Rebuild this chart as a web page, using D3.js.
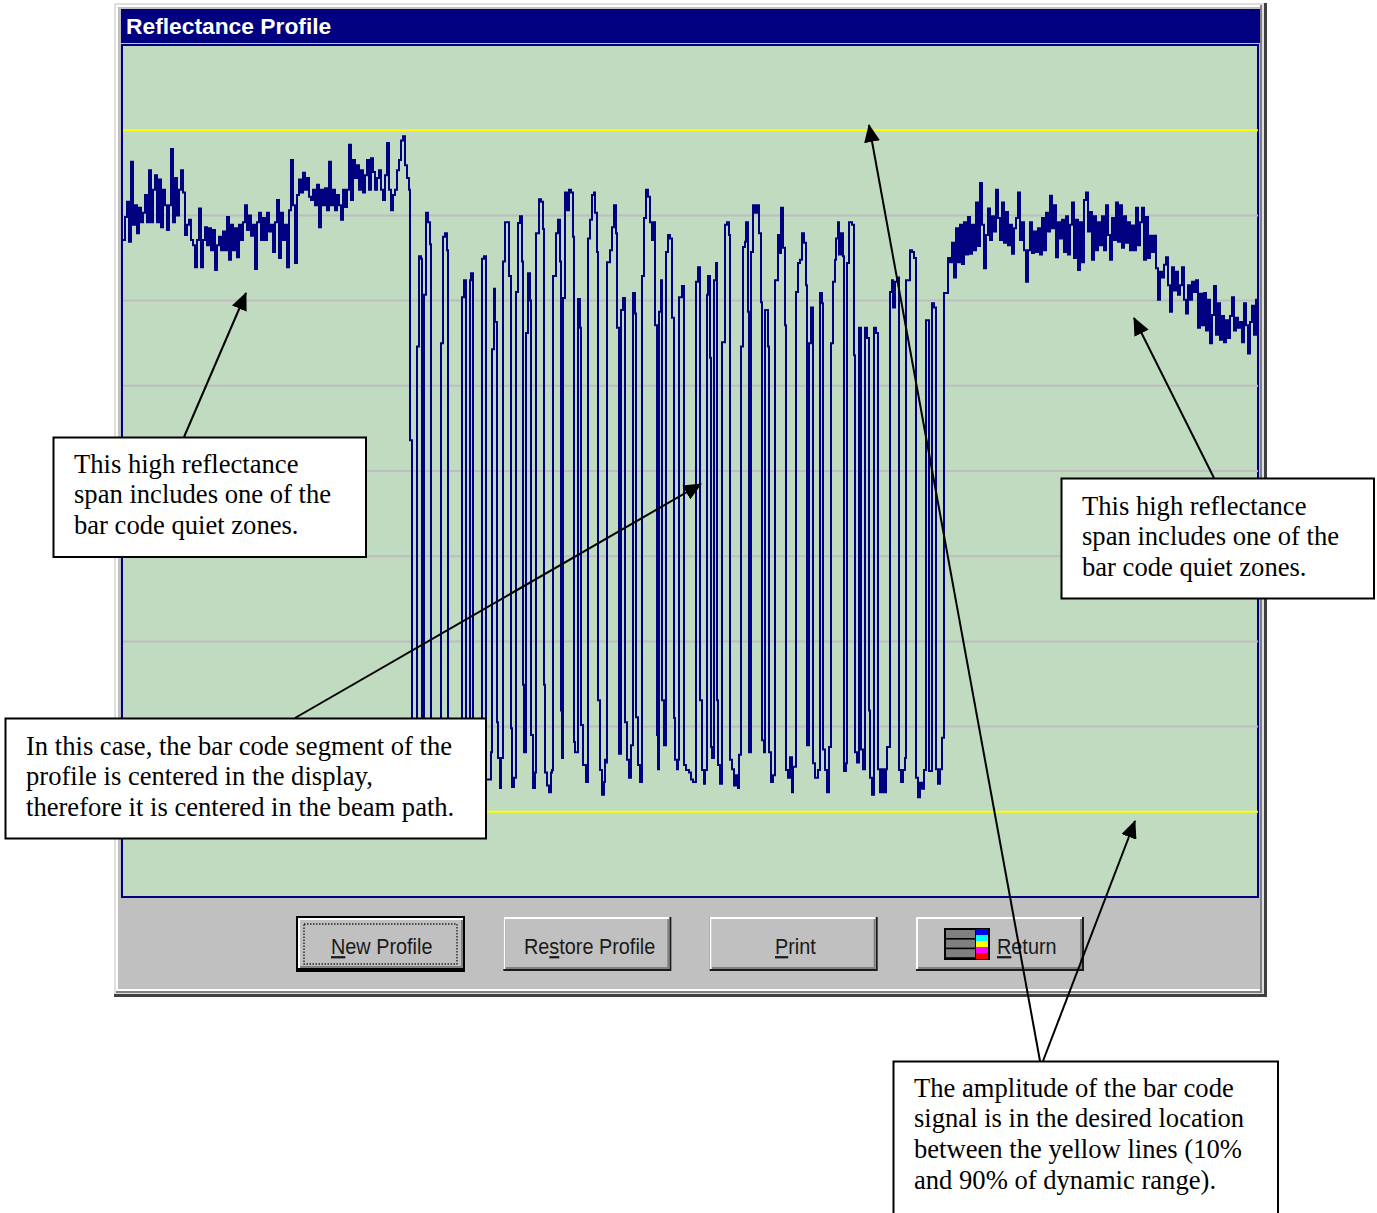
<!DOCTYPE html>
<html>
<head>
<meta charset="utf-8">
<title>Reflectance Profile</title>
<script src="https://cdnjs.cloudflare.com/ajax/libs/d3/7.8.5/d3.min.js"></script>
<style>
  body { margin: 0; background: #ffffff; }
  svg { display: block; }
  .note { font-family: "Liberation Serif", serif; font-size: 26.6px; fill: #000000; }
  .btn { font-family: "Liberation Sans", sans-serif; font-size: 22.4px; fill: #1a1a1a; }
</style>
</head>
<body>
<div class="chart"></div>
<script>
// Reflectance profile window with its callout notes

// reflectance in percent of dynamic range
var gridLevels = [20, 30, 40, 50, 60, 70, 80];
var limitLevels = [10, 90];

// left quiet zone, one reading every zoneStep samples
var zoneStep = 2;
var leftZoneStart = 0;
var leftZone = [
  77.1, 79.8, 81.6, 76.9, 86.3, 78.9, 81.2, 77.9, 80.9, 79.2, 80.3, 82.4, 79.2, 85.3, 79.2, 83.0,
  84.7, 79.2, 84.2, 78.6, 83.0, 81.2, 78.3, 81.2, 87.8, 79.2, 84.4, 80.0, 83.0, 85.3, 82.7, 77.7,
  78.9, 79.5, 77.1, 76.5, 73.9, 77.1, 80.8, 73.9, 77.1, 78.6, 76.5, 78.5, 75.9, 78.3, 73.6, 76.5,
  77.5, 75.9, 78.1, 75.9, 79.8, 74.8, 78.9, 75.9, 78.5, 75.1, 78.9, 77.1, 79.2, 81.2, 78.3, 80.0,
  77.6, 78.9, 73.7, 79.2, 80.3, 77.1, 79.7, 77.1, 80.3, 78.1, 78.9, 75.7, 79.2, 81.8, 75.0, 80.3,
  77.1, 78.9, 73.9, 80.6, 86.5, 81.2, 74.4, 82.4, 84.2, 82.7, 85.0, 83.0, 84.4, 82.2, 81.8, 83.0,
  81.2, 83.6, 78.6, 83.0, 81.2, 83.2, 80.6, 86.3, 81.2, 83.0, 80.6, 82.4, 81.2, 79.5, 83.0, 81.0,
  83.0, 88.3, 81.8, 86.5, 84.4, 85.9, 83.0, 85.3, 82.7, 84.7, 86.5, 83.0, 86.7, 85.1, 83.0, 84.4,
  85.3, 83.0, 81.8, 84.7, 88.5, 83.0, 80.6, 82.4, 83.0, 85.3, 86.5, 88.8, 89.3, 85.9, 84.4, 83.0
];

// bar code segment as [sample, reflectance] steps
var barTrace = [
  [287, 53.6], [289, 14.9], [294, 64.6], [296, 75.2], [298, 74.9], [299, 16.1], [301, 70.7], [303, 80.3],
  [305, 79.2], [307, 76.6], [308, 15.5], [318, 65.0], [320, 77.5], [322, 77.9], [324, 75.9], [325, 14.9],
  [339, 70.4], [341, 72.4], [343, 15.5], [347, 72.4], [348, 73.2], [350, 14.9], [359, 74.9], [361, 75.2],
  [363, 13.8], [368, 17.0], [369, 64.3], [371, 71.4], [372, 67.5], [374, 20.5], [375, 16.3], [377, 12.8],
  [378, 16.3], [380, 74.6], [382, 79.2], [384, 79.2], [386, 72.9], [388, 19.8], [389, 12.9], [391, 14.0],
  [393, 71.0], [395, 79.1], [397, 79.9], [399, 74.6], [400, 24.9], [401, 17.0], [403, 66.2], [405, 73.2],
  [407, 70.0], [408, 19.0], [410, 12.8], [412, 14.6], [413, 77.9], [416, 81.9], [418, 81.6], [420, 78.4],
  [421, 24.9], [422, 14.6], [424, 13.1], [426, 12.3], [428, 14.6], [429, 14.9], [430, 72.9], [433, 77.9],
  [435, 79.5], [437, 74.6], [438, 21.9], [439, 16.3], [440, 70.3], [442, 82.7], [444, 80.6], [446, 83.0],
  [448, 82.7], [450, 77.5], [451, 18.2], [452, 17.0], [455, 70.2], [457, 66.8], [458, 20.2], [460, 15.5],
  [463, 13.5], [465, 77.3], [467, 79.5], [469, 82.4], [471, 82.7], [472, 80.3], [474, 75.7], [475, 23.1],
  [477, 14.9], [479, 12.0], [481, 13.5], [482, 16.1], [483, 15.8], [484, 74.5], [487, 75.9], [489, 78.6],
  [491, 81.2], [493, 77.9], [494, 66.8], [496, 16.8], [498, 68.9], [500, 70.3], [502, 20.5], [504, 16.1],
  [506, 14.0], [508, 17.8], [510, 70.9], [512, 68.5], [513, 21.1], [515, 15.5], [517, 13.5], [519, 72.9],
  [521, 79.7], [523, 83.0], [525, 82.2], [527, 79.2], [529, 77.1], [531, 79.2], [532, 67.1], [534, 19.0],
  [535, 15.0], [536, 68.7], [538, 72.4], [539, 23.1], [541, 17.8], [543, 75.7], [545, 77.7], [547, 77.3],
  [549, 68.0], [551, 21.0], [552, 16.1], [554, 15.0], [555, 16.1], [556, 70.4], [559, 71.7], [561, 15.5],
  [563, 14.9], [566, 14.6], [568, 13.8], [570, 13.5], [573, 72.2], [575, 73.9], [577, 23.1], [579, 14.9],
  [581, 13.3], [582, 14.9], [584, 70.7], [585, 72.9], [587, 63.3], [588, 17.6], [589, 16.3], [591, 72.4],
  [593, 74.4], [594, 23.1], [595, 15.5], [597, 13.3], [599, 65.1], [602, 78.9], [604, 79.2], [606, 77.7],
  [607, 16.1], [609, 15.0], [611, 13.1], [613, 14.3], [615, 12.8], [616, 16.7], [618, 64.6], [620, 76.3],
  [622, 76.9], [623, 79.2], [625, 68.7], [626, 17.0], [628, 75.7], [630, 81.2], [632, 80.3], [634, 81.2],
  [636, 77.9], [638, 69.8], [639, 18.4], [641, 17.0], [642, 68.9], [645, 64.6], [646, 17.0], [648, 13.5],
  [650, 14.3], [652, 72.4], [655, 77.7], [657, 75.6], [658, 80.9], [660, 76.2], [662, 67.1], [663, 14.9],
  [665, 14.0], [667, 16.4], [669, 12.3], [670, 15.3], [673, 71.0], [675, 74.4], [677, 74.8], [679, 77.9],
  [681, 76.8], [683, 71.8], [684, 17.8], [686, 65.0], [688, 69.2], [690, 15.7], [692, 14.0], [695, 14.9],
  [697, 70.9], [699, 69.7], [700, 17.3], [702, 14.9], [704, 12.3], [706, 17.6], [708, 65.0], [710, 72.2],
  [712, 74.8], [713, 77.3], [715, 79.2], [716, 75.4], [718, 77.9], [720, 75.2], [721, 14.8], [723, 15.7],
  [724, 74.4], [726, 79.2], [729, 78.9], [731, 63.6], [732, 17.0], [734, 15.8], [736, 66.8], [738, 17.3],
  [740, 15.0], [742, 66.8], [744, 65.6], [746, 21.9], [747, 14.0], [749, 12.0], [751, 66.8], [753, 66.2],
  [755, 15.0], [757, 12.3], [759, 15.0], [761, 12.3], [763, 15.0], [764, 17.6], [767, 71.0], [769, 72.4],
  [770, 69.2], [772, 72.2], [774, 72.7], [776, 14.9], [778, 13.5], [780, 14.9], [782, 16.3], [783, 72.4],
  [787, 75.9], [789, 75.7], [791, 75.0], [793, 14.0], [795, 11.7], [797, 13.4], [799, 12.7], [801, 14.9],
  [803, 67.7], [806, 14.8], [809, 69.7], [811, 69.2], [813, 15.0], [815, 13.3], [817, 15.0], [819, 18.7]
];

// right quiet zone
var rightZoneStart = 821;
var rightZone = [
  70.9, 70.9, 75.0, 74.5, 76.8, 72.7, 78.5, 74.5, 78.9, 74.3, 79.2, 75.4, 79.8, 75.5, 78.9, 75.9,
  81.5, 76.4, 83.8, 78.9, 73.8, 77.7, 80.8, 77.1, 79.9, 78.1, 83.0, 79.7, 77.1, 81.5, 76.8, 80.4,
  76.5, 78.9, 75.5, 78.5, 79.7, 82.7, 77.1, 79.2, 75.9, 72.2, 75.9, 79.2, 75.6, 78.1, 75.7, 78.5,
  75.4, 79.7, 75.9, 80.3, 78.1, 82.3, 78.5, 81.2, 75.1, 79.2, 77.3, 79.5, 75.7, 79.9, 75.4, 78.9,
  81.5, 75.0, 79.5, 73.6, 79.2, 74.5, 81.8, 82.7, 78.1, 80.4, 74.8, 79.9, 75.9, 79.2, 76.5, 79.9,
  75.9, 81.2, 77.7, 74.8, 79.7, 77.1, 81.5, 76.9, 81.2, 76.2, 79.9, 76.8, 79.2, 75.9, 78.8, 75.9,
  80.9, 76.5, 79.2, 80.9, 74.8, 79.8, 75.0, 77.6, 75.7, 77.6, 73.8, 70.1, 73.4, 72.7, 74.2, 75.1,
  71.8, 68.7, 73.9, 71.2, 73.4, 70.7, 71.8, 73.9, 70.1, 68.5, 71.8, 70.1, 72.2, 71.0, 72.4, 66.8,
  70.8, 67.1, 70.9, 66.5, 70.1, 65.0, 68.3, 71.7, 66.0, 69.7, 65.4, 68.2, 65.1, 67.7, 65.6, 68.2,
  70.4, 66.5, 68.0, 66.8, 67.5, 65.1, 69.7, 67.1, 63.8, 67.5, 69.4, 66.0, 70.1, 63.6
];

// window text
var windowTitle = "Reflectance Profile";
var buttonLabels = [
  { before: "", key: "N", after: "ew Profile" },
  { before: "Re", key: "s", after: "tore Profile" },
  { before: "", key: "P", after: "rint" },
  { before: "", key: "R", after: "eturn" }
];
var swatchColors = ["#0000ff", "#00ffff", "#ffff00", "#ff00ff", "#ff0000"];

// callouts
var noteLines = [
  ["This high reflectance", "span includes one of the", "bar code quiet zones."],
  ["This high reflectance", "span includes one of the", "bar code quiet zones."],
  ["In this case, the bar code segment of the", "profile is centered in the display,", "therefore it is centered in the beam path."],
  ["The amplitude of the bar code", "signal is in the desired location", "between the yellow lines (10%", "and 90% of dynamic range)."]
];

var svgWidth = 1377;
var svgHeight = 1213;

var svg = d3
  .select(".chart")
  .append("svg")
  .attr("width", svgWidth)
  .attr("height", svgHeight);

var defs = svg.append("defs");
defs.append("marker")
  .attr("id", "arrowhead")
  .attr("markerUnits", "userSpaceOnUse")
  .attr("viewBox", "0 0 18 16")
  .attr("refX", 17)
  .attr("refY", 8)
  .attr("markerWidth", 18)
  .attr("markerHeight", 16)
  .attr("orient", "auto")
  .append("path")
  .attr("d", "M0,0L18,8L0,16Z")
  .attr("fill", "#000");

// ---- window frame ----
function box(parent, x, y, w, h, fill) {
  return parent.append("rect")
    .attr("x", x).attr("y", y)
    .attr("width", w).attr("height", h)
    .attr("fill", fill);
}

var frame = svg.append("g");
box(frame, 114, 3, 1153, 994, "#404040");
box(frame, 114, 3, 1150, 991, "#dfdfdf");
box(frame, 116, 5, 1146, 988, "#808080");
box(frame, 116, 5, 1144, 986, "#ffffff");
box(frame, 118, 7, 1142, 982, "#c0c0c0");
box(frame, 121, 9, 1139, 34, "#000080");

frame.append("text")
  .attr("x", 126)
  .attr("y", 33.5)
  .attr("font-family", "'Liberation Sans', sans-serif")
  .attr("font-weight", "bold")
  .attr("font-size", 22.8)
  .attr("fill", "#ffffff")
  .text(windowTitle);

// ---- plot ----
var plotLeft = 123, plotRight = 1258, plotTop = 45, plotBottom = 897;

var xScale = d3.scaleLinear().domain([0, 1135]).range([plotLeft, plotRight]);
var yScale = d3.scaleLinear().domain([0, 100]).range([plotBottom, plotTop]);

var plot = svg.append("g");
plot.append("rect")
  .attr("x", plotLeft - 1)
  .attr("y", plotTop)
  .attr("width", plotRight - plotLeft + 1)
  .attr("height", plotBottom - plotTop)
  .attr("fill", "#c0dbc0")
  .attr("stroke", "#000080")
  .attr("stroke-width", 2);

plot.selectAll(".grid")
  .data(gridLevels)
  .enter()
  .append("line")
  .attr("class", "grid")
  .attr("x1", plotLeft)
  .attr("x2", plotRight)
  .attr("y1", d => yScale(d))
  .attr("y2", d => yScale(d))
  .attr("stroke", "#c0bcc0")
  .attr("stroke-width", 2);

plot.selectAll(".limit")
  .data(limitLevels)
  .enter()
  .append("line")
  .attr("class", "limit")
  .attr("x1", plotLeft)
  .attr("x2", plotRight)
  .attr("y1", d => yScale(d))
  .attr("y2", d => yScale(d))
  .attr("stroke", "#ffff00")
  .attr("stroke-width", 2);

// join the three spans into one trace
var trace = leftZone.map((v, i) => [leftZoneStart + i * zoneStep, v])
  .concat(barTrace)
  .concat(rightZone.map((v, i) => [rightZoneStart + i * zoneStep, v]));

var traceLine = d3.line()
  .x(d => xScale(d[0]))
  .y(d => yScale(d[1]))
  .curve(d3.curveStepAfter);

plot.append("path")
  .datum(trace)
  .attr("d", traceLine)
  .attr("fill", "none")
  .attr("stroke", "#000080")
  .attr("stroke-width", 2);

// ---- buttons ----
var buttonX = d3.scalePoint().domain(d3.range(buttonLabels.length)).range([296, 915]);
var buttons = svg.append("g");

buttonLabels.forEach(function(label, i) {
  var x = buttonX(i) + (i === 0 ? 0 : 1);
  var w = 168, y = 917, h = 54;
  var g = buttons.append("g");

  if (i === 0) {
    box(g, x, y - 1, w + 1, h + 2, "#000000");
    box(g, x + 2, y + 1, w - 3, h - 4, "#ffffff");
    box(g, x + 4, y + 3, w - 5, h - 6, "#808080");
    box(g, x + 4, y + 3, w - 7, h - 8, "#c0c0c0");
    g.append("rect")
      .attr("x", 304).attr("y", 924)
      .attr("width", 153).attr("height", 40)
      .attr("fill", "none")
      .attr("stroke", "#222")
      .attr("stroke-width", 1.4)
      .attr("stroke-dasharray", "1.5 1.5");
  } else {
    box(g, x, y, w, h, "#1a1a1a");
    box(g, x, y, w - 2, h - 2, "#ffffff");
    box(g, x + 2, y + 2, w - 4, h - 4, "#808080");
    box(g, x + 2, y + 2, w - 6, h - 6, "#c0c0c0");
  }

  // the old screen font is narrower than Liberation Sans, squeeze it sideways
  var textX = [331, 524, 775, 997][i];
  var t = g.append("text")
    .attr("class", "btn")
    .attr("transform", `translate(${textX}, 954) scale(0.886, 1)`);
  t.append("tspan").text(label.before);
  t.append("tspan").attr("text-decoration", "underline").text(label.key);
  t.append("tspan").text(label.after);
});

// colour icon on the Return button
var icon = buttons.append("g");
box(icon, 944, 928, 46, 32, "#000000");
d3.range(3).forEach(function(i) {
  box(icon, 946, 930 + i * 9.6, 29, 8, "#808080");
});
var swatchY = d3.scaleBand().domain(d3.range(swatchColors.length)).range([929, 959]);
icon.selectAll(".swatch")
  .data(swatchColors)
  .enter()
  .append("rect")
  .attr("class", "swatch")
  .attr("x", 976)
  .attr("y", (d, i) => swatchY(i))
  .attr("width", 12)
  .attr("height", swatchY.bandwidth())
  .attr("fill", d => d);

// ---- arrows and callouts ----
var arrows = [
  [184, 437, 246, 293],
  [1214, 478, 1134, 318],
  [295, 718, 701, 484],
  [1040, 1061, 869, 125],
  [1043, 1061, 1135, 821]
];

svg.selectAll(".arrow")
  .data(arrows)
  .enter()
  .append("line")
  .attr("class", "arrow")
  .attr("x1", d => d[0])
  .attr("y1", d => d[1])
  .attr("x2", d => d[2])
  .attr("y2", d => d[3])
  .attr("stroke", "#000")
  .attr("stroke-width", 2)
  .attr("marker-end", "url(#arrowhead)");

var noteBoxes = [
  { x: 53.5, y: 437.5, w: 312.5, h: 119.5, tx: 74, ty: 472.5 },
  { x: 1061.5, y: 478.5, w: 312.5, h: 120, tx: 1082, ty: 514.5 },
  { x: 5.5, y: 718.5, w: 480.5, h: 120, tx: 26, ty: 754.5 },
  { x: 893.5, y: 1061.5, w: 384.5, h: 170, tx: 914, ty: 1096.5 }
];

noteBoxes.forEach(function(b, i) {
  var g = svg.append("g");
  g.append("rect")
    .attr("x", b.x).attr("y", b.y)
    .attr("width", b.w).attr("height", b.h)
    .attr("fill", "#ffffff")
    .attr("stroke", "#000")
    .attr("stroke-width", 2);
  g.selectAll("text")
    .data(noteLines[i])
    .enter()
    .append("text")
    .attr("class", "note")
    .attr("x", b.tx)
    .attr("y", (d, j) => b.ty + j * 30.8)
    .text(d => d);
});
</script>
</body>
</html>
